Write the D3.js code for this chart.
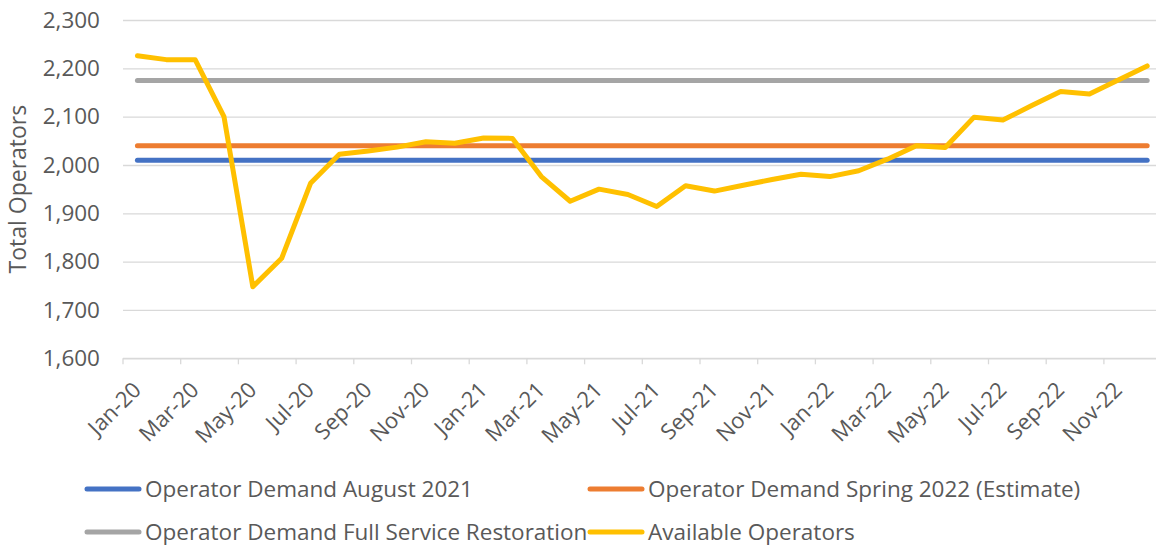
<!DOCTYPE html>
<html>
<head>
<meta charset="utf-8">
<script src="https://cdn.jsdelivr.net/npm/d3@7"></script>
<style>
  body { margin: 0; background: #fff; }
  text { font-family: "Open Sans", "Noto Sans", sans-serif; fill: #595959; }
</style>
</head>
<body>
<div id="chart"></div>
<script>
// months Jan-20 .. Dec-22
var months = ["Jan-20","Feb-20","Mar-20","Apr-20","May-20","Jun-20","Jul-20","Aug-20","Sep-20","Oct-20","Nov-20","Dec-20",
              "Jan-21","Feb-21","Mar-21","Apr-21","May-21","Jun-21","Jul-21","Aug-21","Sep-21","Oct-21","Nov-21","Dec-21",
              "Jan-22","Feb-22","Mar-22","Apr-22","May-22","Jun-22","Jul-22","Aug-22","Sep-22","Oct-22","Nov-22","Dec-22"];
var available = [2226,2218,2218,2100,1748,1807,1962,2022,2029,2037,2048,2045,
                 2056,2055,1976,1925,1950,1939,1914,1957,1946,1958,1970,1981,
                 1976,1988,2012,2040,2036,2099,2093,2123,2152,2147,2176,2205];
var demandAug21 = 2010;
var demandSpring22 = 2040;
var demandFull = 2175;
var yTicks = [1600,1700,1800,1900,2000,2100,2200,2300];
var seriesNames = ["Operator Demand August 2021","Operator Demand Spring 2022 (Estimate)",
                   "Operator Demand Full Service Restoration","Available Operators"];
var colors = ["#4472C4","#ED7D31","#A5A5A5","#FFC000"];

var W = 1156, H = 546;
var pLeft = 123, pTop = 20, pBottom = 358.3, pRight = 123 + 36 * 28.85;

var svg = d3.select("#chart").append("svg")
    .attr("width", W).attr("height", H);

var x = d3.scaleBand().domain(months).range([pLeft, pRight]).padding(0);
var y = d3.scaleLinear().domain([1600, 2300]).range([pBottom, pTop]);
var cx = function(m){ return x(m) + x.bandwidth() / 2; };

// gridlines
svg.append("g")
    .attr("transform", "translate(" + pLeft + ",0)")
    .call(d3.axisLeft(y).tickValues(yTicks).tickSize(-(pRight - pLeft)).tickFormat(""))
    .call(function(g){
        g.select(".domain").remove();
        g.selectAll("line").attr("stroke", "#d9d9d9").attr("stroke-width", 1.3);
    });

// y labels
svg.append("g")
    .attr("transform", "translate(" + pLeft + ",0)")
    .call(d3.axisLeft(y).tickValues(yTicks).tickSize(0).tickPadding(23).tickFormat(d3.format(",")))
    .call(function(g){
        g.select(".domain").remove();
        g.selectAll("text").style("font-size", "22.5px").attr("fill", "#595959")
          .style("font-family", "'Open Sans', sans-serif");
    });

// x axis line + tick marks every 2 months
var tickMonths = months.filter(function(d, i){ return i % 2 == 0; });
svg.append("line")
    .attr("x1", pLeft).attr("x2", pRight).attr("y1", y(1600)).attr("y2", y(1600))
    .attr("stroke", "#d9d9d9").attr("stroke-width", 1.3);
svg.selectAll(".xtick")
    .data(tickMonths.concat(["end"]))
    .enter().append("line")
    .attr("class", "xtick")
    .attr("x1", function(d){ return d == "end" ? pRight : x(d); })
    .attr("x2", function(d){ return d == "end" ? pRight : x(d); })
    .attr("y1", y(1600)).attr("y2", y(1600) + 6)
    .attr("stroke", "#d9d9d9").attr("stroke-width", 1.3);

// x labels
svg.selectAll(".xlab")
    .data(tickMonths)
    .enter().append("text")
    .attr("class", "xlab")
    .attr("text-anchor", "end")
    .attr("transform", function(d){ return "translate(" + (cx(d) + 5) + "," + (y(1600) + 33) + ") rotate(-45)"; })
    .style("font-size", "22px")
    .text(function(d){ return d; });

// y title
svg.append("text")
    .attr("transform", "translate(26," + ((pTop + pBottom) / 2) + ") rotate(-90)")
    .attr("text-anchor", "middle")
    .style("font-size", "23px")
    .text("Total Operators");

// demand lines
var flat = [demandAug21, demandSpring22, demandFull];
var lineGen = d3.line().x(function(d){ return cx(d[0]); }).y(function(d){ return y(d[1]); });
flat.forEach(function(v, i){
    svg.append("path")
        .datum(months.map(function(m){ return [m, v]; }))
        .attr("d", lineGen)
        .attr("fill", "none")
        .attr("stroke", colors[i])
        .attr("stroke-width", 5)
        .attr("stroke-linecap", "round");
});

// available operators
svg.append("path")
    .datum(months.map(function(m, i){ return [m, available[i]]; }))
    .attr("d", lineGen)
    .attr("fill", "none")
    .attr("stroke", colors[3])
    .attr("stroke-width", 5)
    .attr("stroke-linejoin", "round")
    .attr("stroke-linecap", "round");

// legend
var legPos = [[85, 489], [588, 489], [85, 532], [588, 532]];
seriesNames.forEach(function(name, i){
    var g = svg.append("g").attr("transform", "translate(" + legPos[i][0] + "," + legPos[i][1] + ")");
    g.append("line").attr("x1", 2).attr("x2", 54).attr("y1", 0).attr("y2", 0)
        .attr("stroke", colors[i]).attr("stroke-width", 5).attr("stroke-linecap", "round");
    g.append("text").attr("x", 60).attr("y", 0).attr("dy", "0.35em")
        .style("font-size", "22.5px").text(name);
});
</script>
</body>
</html>
